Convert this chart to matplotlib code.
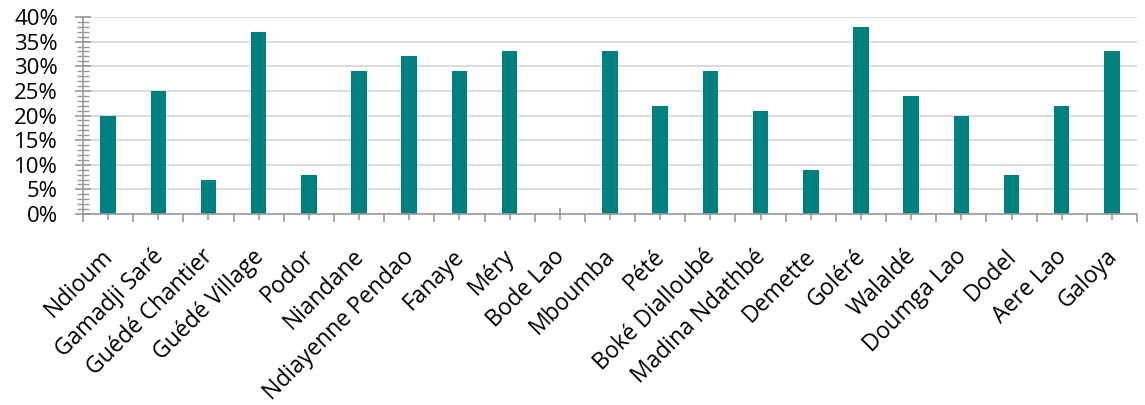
import matplotlib
matplotlib.use("Agg")
import matplotlib.pyplot as plt
from matplotlib.ticker import MultipleLocator, FuncFormatter, FixedLocator
from matplotlib.transforms import ScaledTranslation
import numpy as np

villages = ["Ndioum", "Gamadji Saré", "Guédé Chantier", "Guédé Village", "Podor",
            "Niandane", "Ndiayenne Pendao", "Fanaye", "Méry", "Bode Lao",
            "Mboumba", "Pété", "Boké Dialloubé", "Madina Ndathbé", "Demette",
            "Goléré", "Walaldé", "Doumga Lao", "Dodel", "Aere Lao", "Galoya"]
shares = [0.20, 0.25, 0.07, 0.37, 0.08, 0.29, 0.32, 0.29, 0.33, 0.00,
          0.33, 0.22, 0.29, 0.21, 0.09, 0.38, 0.24, 0.20, 0.08, 0.22, 0.33]

plt.rcParams['font.family'] = ['Open Sans', 'DejaVu Sans']

fig = plt.figure(figsize=(11.45, 4.05), dpi=100)
ax = fig.add_axes([0.0725, 0.4716, 0.9205, 0.4864])

x = np.arange(len(villages))
ax.bar(x, shares, width=0.31, color="#00807F", zorder=3)

ax.set_xlim(-0.5, len(villages) - 0.5)
ax.set_ylim(0, 0.40)

axis_grey = "#999999"
for s in ("top", "right"):
    ax.spines[s].set_visible(False)
for s in ("left", "bottom"):
    ax.spines[s].set_color(axis_grey)
    ax.spines[s].set_linewidth(1.2)
    ax.spines[s].set_zorder(4)

ax.yaxis.set_major_locator(MultipleLocator(0.05))
ax.yaxis.set_minor_locator(MultipleLocator(0.01))
ax.yaxis.set_major_formatter(FuncFormatter(lambda v, p: f"{v*100:.0f}%"))
ax.grid(axis="y", which="major", color="#d9d9d9", linewidth=1.3, zorder=0)

ax.tick_params(axis="y", which="major", direction="inout", length=11, width=1.2,
               color=axis_grey, labelsize=16, pad=12.5)
ax.tick_params(axis="y", which="minor", direction="inout", length=8, width=1.0,
               color=axis_grey)

ax.set_xticks(x)
ax.set_xticklabels(villages, rotation=45, ha="right", va="top",
                   rotation_mode="anchor")
ax.xaxis.set_minor_locator(FixedLocator(np.arange(-0.5, len(villages), 1.0)))
ax.tick_params(axis="x", which="major", direction="inout", length=9, width=1.2,
               color=axis_grey, labelsize=16.5, pad=17.5)
ax.tick_params(axis="x", which="minor", direction="out", length=6, width=1.2,
               color=axis_grey)

# nudge the rotated category labels a little to the left
shift = ScaledTranslation(-7 / 100, 0, fig.dpi_scale_trans)
for tick in ax.xaxis.get_major_ticks():
    tick.label1.set_transform(tick.label1.get_transform() + shift)

fig.savefig("out.png", dpi=100)
